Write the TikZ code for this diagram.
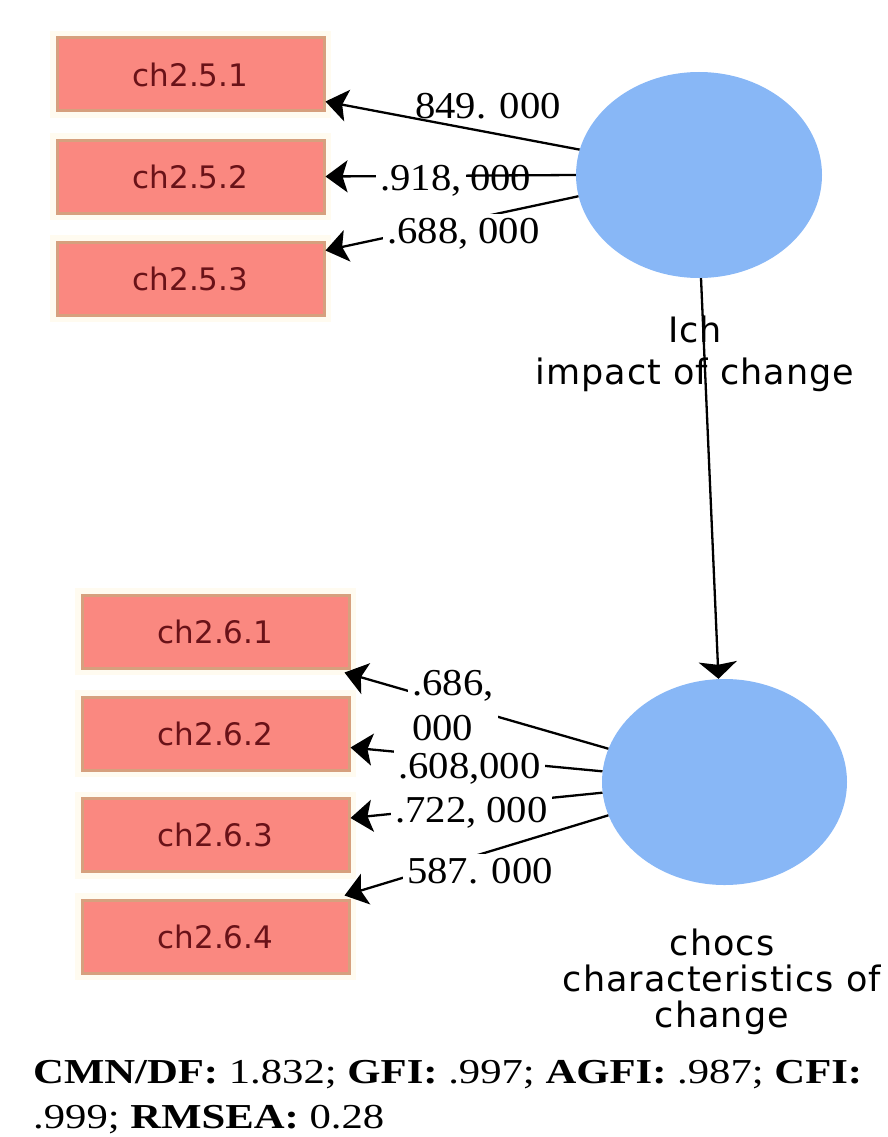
\documentclass[tikz,border=0pt]{standalone}
\usepackage{fontspec}
\usetikzlibrary{arrows.meta,shapes.geometric}
\newfontfamily\boxfont{DejaVu Sans}
\newfontfamily\capfont[LetterSpace=3]{DejaVu Sans}
\newfontfamily\numfont[FakeStretch=1.07]{Liberation Serif}
\newfontfamily\fitfont[FakeStretch=1.22]{Liberation Serif}
\definecolor{boxfill}{RGB}{250,136,128}
\definecolor{boxedge}{RGB}{214,160,126}
\definecolor{boxtext}{RGB}{105,18,24}
\definecolor{halo}{RGB}{255,251,240}
\definecolor{latent}{RGB}{136,183,246}

\begin{document}
\begin{tikzpicture}[x=1pt,y=-1pt,
  indicator/.style={rectangle, minimum width=267pt, minimum height=73pt,
    inner sep=0pt, fill=boxfill, draw=boxedge, line width=3pt,
    preaction={draw=halo, line width=14pt}, text=boxtext,
    font=\boxfont\fontsize{31}{36}\selectfont},
  factor/.style={ellipse, fill=latent, inner sep=0pt},
  loading/.style={line width=2.3pt, -{Stealth[length=22pt,width=32pt,inset=5pt]}},
  regress/.style={line width=2.3pt, -{Stealth[length=17pt,width=38pt,inset=3pt]}},
  coef/.style={font=\numfont\fontsize{38}{45}\selectfont, inner sep=4pt,
    anchor=base west},
  capt/.style={font=\capfont\fontsize{35}{36}\selectfont, align=center,
    inner sep=0pt, anchor=base},
]
\useasboundingbox (0,0) rectangle (887,1137);

% observed indicators
\node[indicator] (a1) at (190.5,74.5) {ch2.5.1};
\node[indicator] (a2) at (190.5,176.5) {ch2.5.2};
\node[indicator] (a3) at (190.5,278.5) {ch2.5.3};
\node[indicator] (b1) at (215.5,631.5) {ch2.6.1};
\node[indicator] (b2) at (215.5,733.5) {ch2.6.2};
\node[indicator] (b3) at (215.5,835) {ch2.6.3};
\node[indicator] (b4) at (215.5,936.5) {ch2.6.4};

% latent factors
\node[factor, minimum width=246pt, minimum height=206pt] (ich) at (699,175) {};
\node[factor, minimum width=245pt, minimum height=206pt] (chocs) at (724.5,782) {};

% factor captions (a multi-line node sits on the baseline of its last line)
\node[capt, font=\capfont\fontsize{35}{42}\selectfont] (ichcap) at (695,384)
  {Ich\\impact of change};
\node[capt] (chocscap) at (722,1027) {chocs\\characteristics of\\change};

% loadings
\draw[loading] (ich.168) -- ([yshift=-27pt]a1.east);
\draw[loading] (ich.180) -- (a2.east);
\draw[loading] (ich.190) -- ([yshift=28pt]a3.east);
\draw[loading] (chocs.164) -- ([xshift=-6pt,yshift=-3pt]b1.south east);
\draw[loading] (chocs.175) -- ([yshift=-14pt]b2.east);
\draw[loading] (chocs.185) -- ([yshift=17pt]b3.east);
\draw[loading] (chocs.196) -- ([xshift=-6pt,yshift=3pt]b4.north east);

% structural path
\draw[regress] ([xshift=2pt]ich.south) -- ([xshift=-6pt]chocs.north);

% coefficients
\node[coef] (l1) at (411,118) {849. 000};
\node[coef, fill=white] (l2a) at (376,190) {.918,};
\node[coef] (l2b) at (466,190) {000};
\node[coef, fill=white] (l3) at (383,243) {.688, 000};
\node[coef, fill=white, align=left] (l4) at (408,740) {.686,\\000};
\node[coef, fill=white] (l5) at (394,778) {.608,000};
\node[coef, fill=white] (l6) at (391,822) {.722, 000};
\node[coef, fill=white] (l7) at (403,883) {587. 000};

% fit indices
\node[anchor=base west, inner sep=0pt, align=left,
  font=\fitfont\fontsize{35}{45}\selectfont] (fit) at (33,1128)
  {\textbf{CMN/DF:} 1.832; \textbf{GFI:} .997; \textbf{AGFI:} .987; \textbf{CFI:}\\
   .999; \textbf{RMSEA:} 0.28};
\end{tikzpicture}
\end{document}
